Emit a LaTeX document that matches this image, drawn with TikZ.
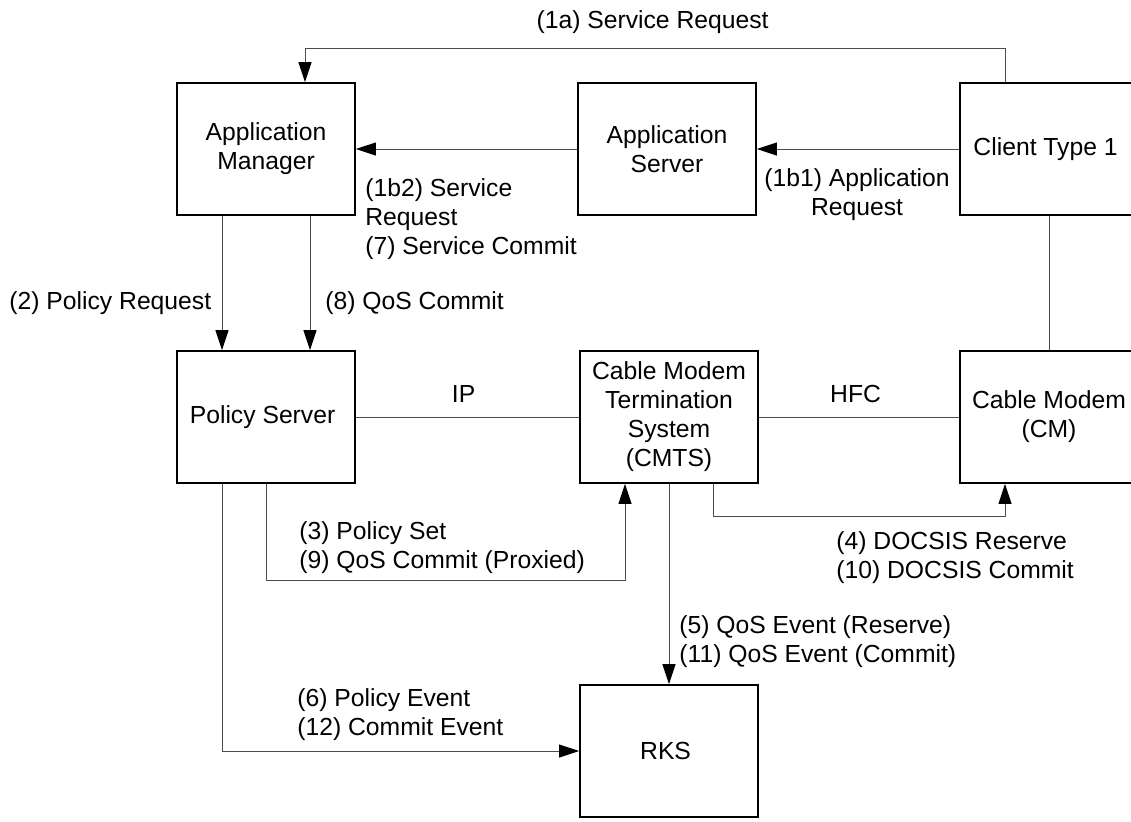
\documentclass[tikz,border=0pt]{standalone}
\usepackage{fontspec}
\setmainfont{Liberation Sans}
\usetikzlibrary{arrows.meta}

\tikzset{
  box/.style={draw=black, line width=0.9pt, minimum width=89pt, minimum height=66pt, align=center, inner sep=0pt},
  conn/.style={draw=black!70, line width=0.5pt},
  arr/.style={conn, -{Triangle[length=10pt,width=6.5pt,color=black]}},
  lbl/.style={inner sep=0pt, align=left, anchor=north west},
}

\begin{document}
\begin{tikzpicture}[x=0.5pt, y=-0.5pt, font=\fontsize{12.35pt}{14.5pt}\selectfont]

\useasboundingbox (0,0) rectangle (1131,821);

%% Top row
\node [box] (am) at (266,149) { Application\\Manager };
\node [box] (as) at (667,149) { Application\\Server };
\node [box] (ct) at (1049,149) { Client Type 1 };

%% Middle row
\node [box] (ps) at (266,417) { Policy Server };
\node [box] (cmts) at (669,417) { Cable Modem\\Termination\\System\\(CMTS) };
\node [box] (cm) at (1049,417) { Cable Modem\\(CM) };

%% Bottom
\node [box] (rks) at (669,751) { RKS };

%% Service request
\draw [arr] ([xshift=-22pt]ct.north) -- ++(0,-34) -| ([xshift=19.5pt]am.north);
\node [lbl, anchor=north] (l1a) at (656,10) { (1a) Service Request };

\draw [arr] (ct.west) -- (as.east);
\node [lbl, anchor=north, align=center] (l1b1) at (857,168) { (1b1) Application\\Request };

\draw [arr] (as.west) -- (am.east);
\node [lbl] (l1b2) at (365,178) { (1b2) Service\\Request\\(7) Service Commit };

%% Policy request / QoS commit
\draw [arr] ([xshift=-22pt]am.south) -- ([xshift=-22pt]ps.north);
\node [lbl] (l2) at (9,291) { (2) Policy Request };

\draw [arr] ([xshift=22pt]am.south) -- ([xshift=22pt]ps.north);
\node [lbl] (l8) at (325,291) { (8) QoS Commit };

%% Links
\draw [conn] (ps.east) -- (cmts.west);
\node [lbl, anchor=north] (lip) at (467,385) { IP };

\draw [conn] (cmts.east) -- (cm.west);
\node [lbl, anchor=north] (lhfc) at (859,385) { HFC };

\draw [conn] (ct.south) -- (cm.north);

%% Policy set
\draw [arr] (ps.south) -- ++(0,97) -| ([xshift=-22pt]cmts.south);
\node [lbl] (l3) at (299,521) { (3) Policy Set\\(9) QoS Commit (Proxied) };

%% DOCSIS
\draw [arr] ([xshift=22pt]cmts.south) -- ++(0,33) -| ([xshift=-22pt]cm.south);
\node [lbl] (l4) at (836,531) { (4) DOCSIS Reserve\\(10) DOCSIS Commit };

%% Events
\draw [arr] (cmts.south) -- (rks.north);
\node [lbl] (l5) at (679,615) { (5) QoS Event (Reserve)\\(11) QoS Event (Commit) };

\draw [arr] ([xshift=-22pt]ps.south) |- (rks.west);
\node [lbl] (l6) at (297,688) { (6) Policy Event\\(12) Commit Event };

\end{tikzpicture}
\end{document}
